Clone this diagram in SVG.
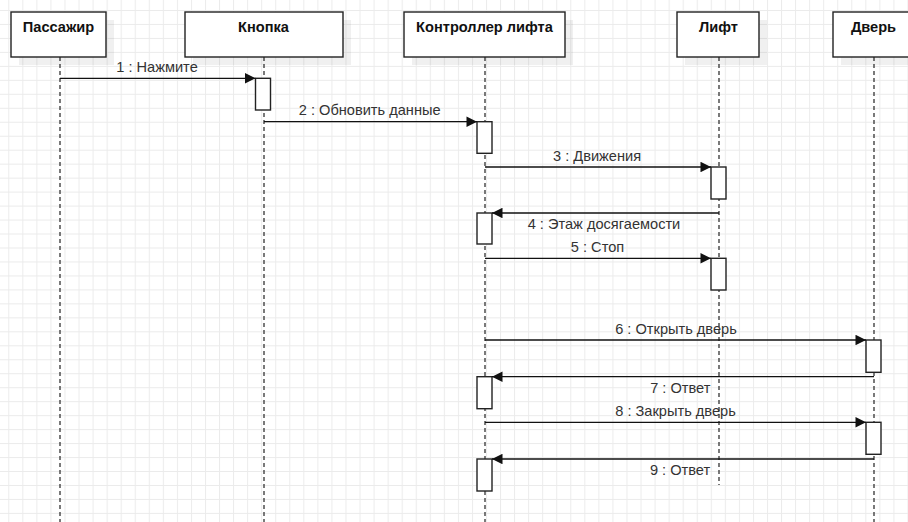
<svg xmlns="http://www.w3.org/2000/svg" width="908" height="522" viewBox="0 0 908 522">
  <style>
    .head { fill: #fff; stroke: #222; stroke-width: 1.4; }
    .shadow { fill: #000; fill-opacity: 0.06; }
    .htext { font-family: "Liberation Sans", Arial, sans-serif; font-size: 14.6px; font-weight: bold; fill: #111; text-anchor: middle; }
    .life { stroke: #333; stroke-width: 1.3; stroke-dasharray: 4 3; fill: none; }
    .act { fill: #fff; stroke: #222; stroke-width: 1.4; }
    .msg { stroke: #111; stroke-width: 1.3; fill: none; marker-end: url(#block); }
    .mtext { font-family: "Liberation Sans", Arial, sans-serif; font-size: 14.6px; fill: #333; text-anchor: middle; }
  </style>
  <defs>
    <pattern id="grid" x="8.3" y="10" width="14.05" height="13.97" patternUnits="userSpaceOnUse">
      <path d="M0 0.5 H14.05 M0.5 0 V13.97" stroke="#ebebeb" stroke-width="1" fill="none"/>
    </pattern>
    <marker id="block" viewBox="0 0 10 10" refX="10" refY="5" markerWidth="12.5" markerHeight="10.5" markerUnits="userSpaceOnUse" orient="auto">
      <path d="M0 0 L10 5 L0 10 Z" fill="#111"/>
    </marker>
  </defs>

  <!-- background grid -->
  <rect width="908" height="522" fill="#fff"/>
  <rect width="908" height="522" fill="url(#grid)"/>

  <!-- lifelines -->
  <g id="lifelines">
    <line class="life" x1="60" y1="57" x2="60" y2="522"/>
    <line class="life" x1="264" y1="57" x2="264" y2="522"/>
    <line class="life" x1="485" y1="57" x2="485" y2="522"/>
    <line class="life" x1="719" y1="57" x2="719" y2="485"/>
    <line class="life" x1="874" y1="57" x2="874" y2="522"/>
  </g>

  <!-- participants -->
  <g id="passenger">
    <rect class="shadow" x="19" y="20" width="95" height="45"/>
    <rect class="head" x="11" y="12" width="95" height="45"/>
    <text class="htext" x="58.5" y="32">Пассажир</text>
  </g>
  <g id="button">
    <rect class="shadow" x="193" y="20" width="158" height="45"/>
    <rect class="head" x="185" y="12" width="158" height="45"/>
    <text class="htext" x="263.5" y="32">Кнопка</text>
  </g>
  <g id="controller">
    <rect class="shadow" x="412" y="20" width="161" height="45"/>
    <rect class="head" x="404" y="12" width="161" height="45"/>
    <text class="htext" x="484.5" y="32">Контроллер лифта</text>
  </g>
  <g id="lift">
    <rect class="shadow" x="685" y="20" width="82" height="45"/>
    <rect class="head" x="677" y="12" width="82" height="45"/>
    <text class="htext" x="718.5" y="32">Лифт</text>
  </g>
  <g id="door">
    <rect class="shadow" x="841" y="20" width="82" height="45"/>
    <rect class="head" x="833" y="12" width="82" height="45"/>
    <text class="htext" x="873.5" y="32">Дверь</text>
  </g>

  <!-- activation bars -->
  <g id="activations">
    <rect class="act" x="255.5" y="78.3" width="15" height="31.7"/>
    <rect class="act" x="477" y="121.7" width="15" height="31.6"/>
    <rect class="act" x="711" y="167" width="15" height="32"/>
    <rect class="act" x="477" y="213" width="15" height="31"/>
    <rect class="act" x="711" y="258.3" width="15" height="31.7"/>
    <rect class="act" x="866" y="340" width="15" height="32.3"/>
    <rect class="act" x="477" y="376.7" width="15" height="32"/>
    <rect class="act" x="866" y="422.3" width="15" height="32"/>
    <rect class="act" x="477" y="459" width="15" height="32"/>
  </g>

  <!-- messages -->
  <g id="connectors">
    <line class="msg" x1="60" y1="78.3" x2="255.5" y2="78.3"/>
    <line class="msg" x1="264" y1="121.7" x2="477" y2="121.7"/>
    <line class="msg" x1="485" y1="167" x2="711" y2="167"/>
    <line class="msg" x1="719" y1="213" x2="492" y2="213"/>
    <line class="msg" x1="485" y1="258.3" x2="711" y2="258.3"/>
    <line class="msg" x1="485" y1="340" x2="866" y2="340"/>
    <line class="msg" x1="874" y1="376.7" x2="492" y2="376.7"/>
    <line class="msg" x1="485" y1="422.3" x2="866" y2="422.3"/>
    <line class="msg" x1="874" y1="459" x2="492" y2="459"/>

    <text class="mtext" x="157" y="72">1 : Нажмите</text>
    <text class="mtext" x="369.7" y="115">2 : Обновить данные</text>
    <text class="mtext" x="597" y="160.5">3 : Движения</text>
    <text class="mtext" x="604" y="229.3">4 : Этаж досягаемости</text>
    <text class="mtext" x="597.5" y="251.7">5 : Стоп</text>
    <text class="mtext" x="676" y="334">6 : Открыть дверь</text>
    <text class="mtext" x="680.3" y="392.7">7 : Ответ</text>
    <text class="mtext" x="675.5" y="415.5">8 : Закрыть дверь</text>
    <text class="mtext" x="680" y="475">9 : Ответ</text>
  </g>
</svg>
